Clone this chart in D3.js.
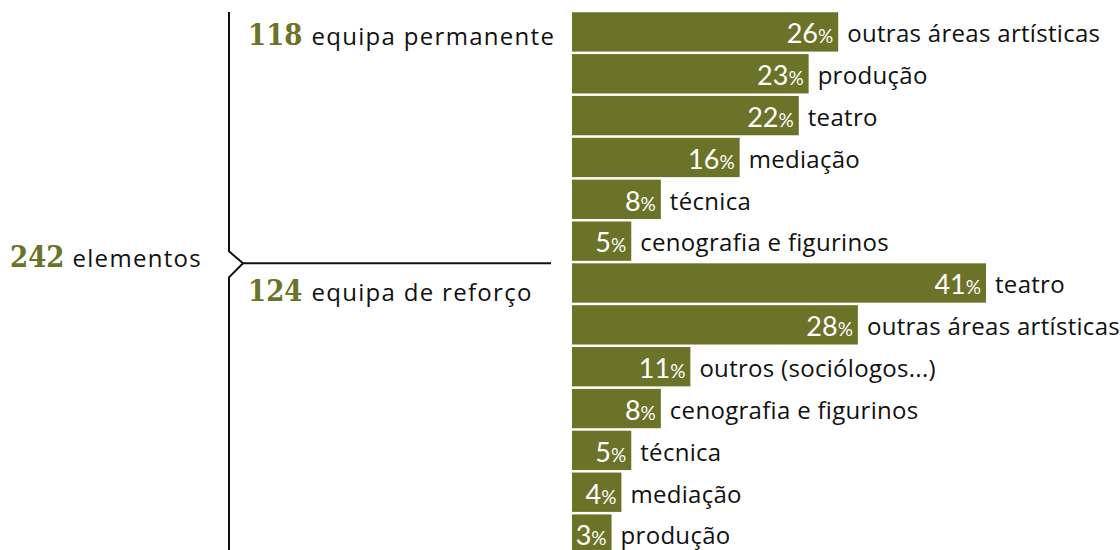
<!DOCTYPE html>
<html>
<head>
<meta charset="utf-8">
<script src="https://cdn.jsdelivr.net/npm/d3@7"></script>
<style>
  html, body { margin: 0; padding: 0; background: #fff; }
  svg { display: block; }
  .lbl { font-family: "Open Sans", sans-serif; fill: #111; }
  .big { font-family: "DejaVu Serif Condensed", "DejaVu Serif", serif; font-stretch: condensed; font-weight: bold; fill: #6b7328; }
</style>
</head>
<body>
<div id="chart"></div>
<script>
// data
const grandTotal = 242;
const grandLabel = 'elementos';
const groupNames = ['equipa permanente', 'equipa de reforço'];
const groupTotals = [118, 124];

const permCategories = ['outras áreas artísticas', 'produção', 'teatro', 'mediação', 'técnica', 'cenografia e figurinos'];
const permValues = [26, 23, 22, 16, 8, 5];

const refCategories = ['teatro', 'outras áreas artísticas', 'outros (sociólogos...)', 'cenografia e figurinos', 'técnica', 'mediação', 'produção'];
const refValues = [41, 28, 11, 8, 5, 4, 3];

const width = 1120, height = 550;
const barColor = '#6b7328';
const barLeft = 572;

let rows = [];
permCategories.forEach((c, i) => rows.push({cat: c, val: permValues[i], group: 0}));
refCategories.forEach((c, i) => rows.push({cat: c, val: refValues[i], group: 1}));
rows.forEach((d, i) => d.idx = i);

const svg = d3.select('#chart').append('svg')
  .attr('width', width).attr('height', height);

const y = d3.scaleBand()
  .domain(rows.map(d => d.idx))
  .range([11, 555])
  .paddingInner(0.06)
  .paddingOuter(0.03);

const maxVal = d3.max(rows, d => d.val);
const x = d3.scaleLinear()
  .domain([0, maxVal])
  .range([10, 414]);

// bars
svg.append('g').selectAll('rect')
  .data(rows)
  .enter().append('rect')
  .attr('x', barLeft)
  .attr('y', d => y(d.idx))
  .attr('width', d => x(d.val))
  .attr('height', y.bandwidth())
  .attr('fill', barColor);

// value labels inside bars
let vals = svg.append('g').selectAll('text')
  .data(rows)
  .enter().append('text')
  .attr('x', d => barLeft + x(d.val) - 5)
  .attr('y', d => y(d.idx) + 31)
  .attr('text-anchor', 'end')
  .attr('fill', '#fff')
  .attr('font-family', 'Lato, sans-serif');
vals.append('tspan').attr('font-size', 27).text(d => d.val);
vals.append('tspan').attr('font-size', 19).text('%');

// category labels
svg.append('g').selectAll('text')
  .data(rows)
  .enter().append('text')
  .attr('class', 'lbl')
  .attr('x', d => barLeft + x(d.val) + 9)
  .attr('y', d => y(d.idx) + 30)
  .attr('font-size', 24)
  .attr('letter-spacing', 0.3)
  .text(d => d.cat);

// bracket
const splitY = y(permValues.length);
const bx = 229;
const line = d3.line();
svg.append('path')
  .attr('d', line([[bx, 12], [bx, splitY - 12], [bx + 14, splitY], [bx, splitY + 14], [bx, height]]))
  .attr('fill', 'none')
  .attr('stroke', '#111')
  .attr('stroke-width', 2);
svg.append('line')
  .attr('x1', bx + 14).attr('x2', 551)
  .attr('y1', splitY).attr('y2', splitY)
  .attr('stroke', '#111')
  .attr('stroke-width', 2);

// left labels
function headLabel(xPos, yPos, num, txt, gap) {
  let t = svg.append('text').attr('x', xPos).attr('y', yPos);
  t.append('tspan').attr('class', 'big').attr('font-size', 29).text(num);
  t.append('tspan').attr('class', 'lbl').attr('font-size', 24)
    .attr('letter-spacing', 1.3).attr('dx', gap).text(txt);
}
headLabel(10, 267, grandTotal, grandLabel, 8);
headLabel(248, 45, groupTotals[0], groupNames[0], 9);
headLabel(248, 301, groupTotals[1], groupNames[1], 9);
</script>
</body>
</html>
